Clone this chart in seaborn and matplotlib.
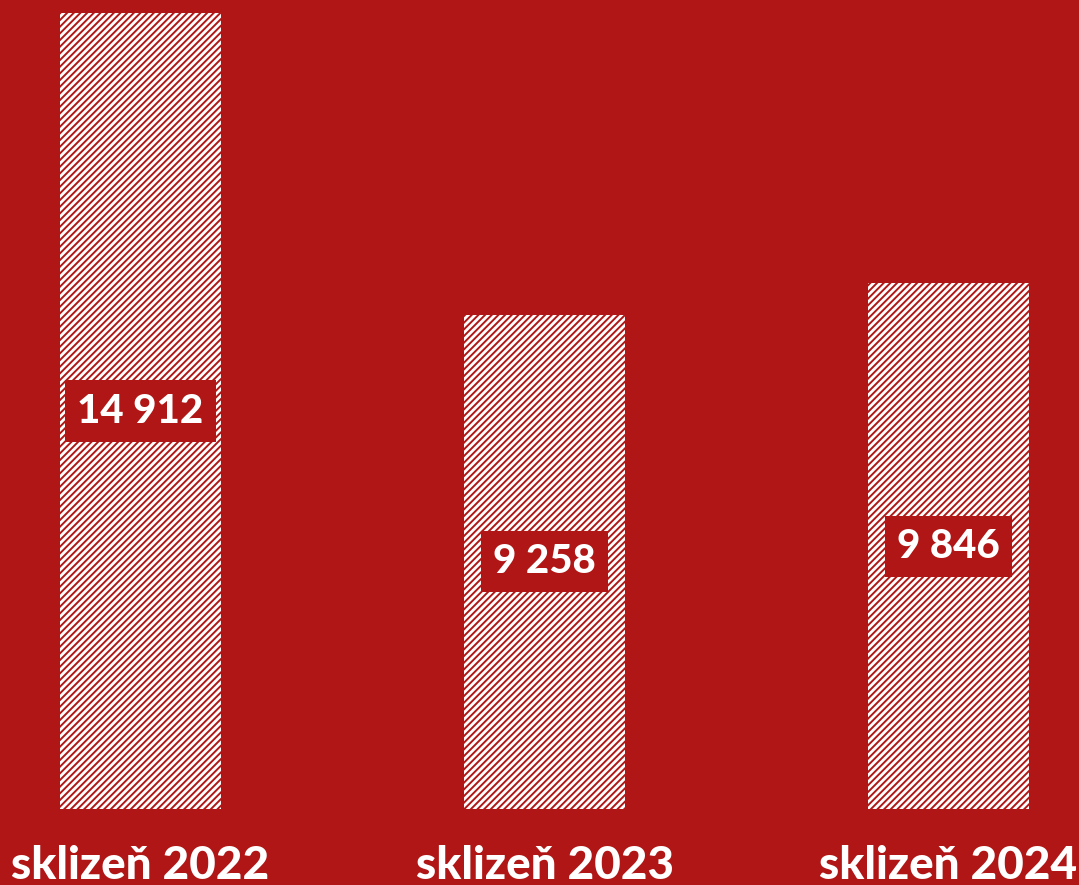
import matplotlib
matplotlib.use('Agg')
import matplotlib.pyplot as plt
import seaborn as sns
import pandas as pd

# harvest values
categories = ['sklizeň 2022', 'sklizeň 2023', 'sklizeň 2024']
values = [14912, 9258, 9846]
value_labels = ['14 912', '9 258', '9 846']

bg = '#B01615'

sns.set_theme(style='white')
plt.rcParams['font.family'] = ['Lato', 'DejaVu Sans']
plt.rcParams['hatch.linewidth'] = 1.4

df = pd.DataFrame({'harvest': categories, 'value': values})

fig = plt.figure(figsize=(10.79, 8.85), dpi=100, facecolor=bg)
ax = fig.add_axes([0, 76 / 885, 1, 796 / 885])
ax.set_facecolor(bg)

sns.barplot(data=df, x='harvest', y='value', color='white', width=0.4,
            saturation=1, edgecolor=bg, linewidth=0, ax=ax)
for p in ax.patches:
    p.set_hatch('/////')
    p.set_edgecolor(bg)
    p.set_facecolor('white')

for i, (v, lab) in enumerate(zip(values, value_labels)):
    ax.text(i, v / 2, lab, ha='center', va='center', color='white',
            fontsize=29, fontweight='black',
            bbox=dict(boxstyle='square,pad=0.3', facecolor=bg, edgecolor='none'))

ax.set_xlim(-140.5 / 404, 2 + (1079 - 948.5) / 404)
ax.set_ylim(0, 14912)
ax.set_yticks([])
ax.set_xlabel('')
ax.set_ylabel('')
ax.tick_params(axis='x', length=0, pad=26, colors='white')
for t in ax.get_xticklabels():
    t.set_fontsize(33)
    t.set_fontweight('black')
    t.set_color('white')
sns.despine(ax=ax, left=True, bottom=True)

fig.savefig('out.png', dpi=100, facecolor=bg)
